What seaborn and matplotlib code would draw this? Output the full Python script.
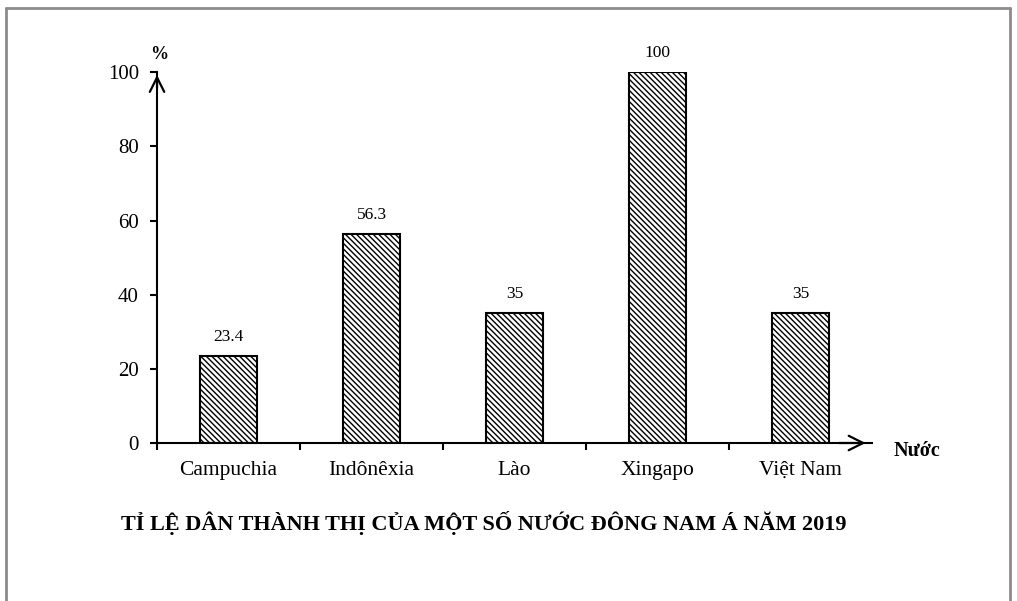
import numpy as np
import pandas as pd
import matplotlib
matplotlib.use('Agg')
import matplotlib.pyplot as plt
import seaborn as sns

# du lieu doc tu bieu do
countries = ['Campuchia', 'Indônêxia', 'Lào', 'Xingapo', 'Việt Nam']
urban_pct = [23.4, 56.3, 35, 100, 35]
value_labels = ['23.4', '56.3', '35', '100', '35']
y_ticks = [0, 20, 40, 60, 80, 100]

sns.set_theme(style='white')
plt.rcParams['font.family'] = ['Liberation Serif', 'DejaVu Serif']
plt.rcParams['hatch.linewidth'] = 1.0
plt.rcParams['text.color'] = 'black'
plt.rcParams['xtick.color'] = 'black'
plt.rcParams['ytick.color'] = 'black'

df = pd.DataFrame({'country': countries, 'pct': urban_pct})

fig = plt.figure(figsize=(10.17, 6.01), dpi=100)
ax = fig.add_axes([0.1544, 0.2629, 0.703, 0.617])

sns.barplot(data=df, x='country', y='pct', color='white', edgecolor='black',
            linewidth=1.5, width=0.4, hatch='\\\\\\\\\\\\', ax=ax)

ax.set_xlim(-0.5, 4.5)
ax.set_ylim(0, 100)
ax.set_yticks(y_ticks)
ax.set_yticklabels([str(v) for v in y_ticks], fontsize=15)
ax.set_xticks(np.arange(len(countries)))
ax.set_xticklabels(countries, fontsize=15.5)
# vach chia giua cac nuoc (bo vach cuoi vi co mui ten)
ax.set_xticks(np.arange(-0.5, 4.0, 1.0), minor=True)
ax.tick_params(axis='x', which='major', length=0, pad=13, bottom=True)
ax.tick_params(axis='x', which='minor', length=5, width=1.5, color='black',
               direction='out', bottom=True)
ax.tick_params(axis='y', which='major', length=5, width=1.5, color='black',
               direction='out', pad=8, left=True)
ax.set_xlabel('')
ax.set_ylabel('')

for s in ['top', 'right']:
    ax.spines[s].set_visible(False)
for s in ['bottom', 'left']:
    ax.spines[s].set_color('black')
    ax.spines[s].set_linewidth(1.5)

# mui ten truc
ax.annotate('', xy=(0.995, 0), xytext=(0.95, 0), xycoords='axes fraction',
            arrowprops=dict(arrowstyle='->', lw=1.6, color='black', mutation_scale=26))
ax.annotate('', xy=(0, 1.0), xytext=(0, 0.95), xycoords='axes fraction',
            arrowprops=dict(arrowstyle='->', lw=1.6, color='black', mutation_scale=26))

for i, v in enumerate(urban_pct):
    ax.annotate(value_labels[i], xy=(i, v), xytext=(0, 8), textcoords='offset points',
                ha='center', va='bottom', fontsize=12.5)

fig.text(0.1563, 0.895, '%', ha='center', va='bottom', fontsize=13, fontweight='bold')
fig.text(0.9017, 0.25, 'Nước', ha='center', va='center', fontsize=14.5, fontweight='bold')
fig.text(0.476, 0.13, 'TỈ LỆ DÂN THÀNH THỊ CỦA MỘT SỐ NƯỚC ĐÔNG NAM Á NĂM 2019',
         ha='center', va='center', fontsize=16, fontweight='bold')

# khung xam
for xs, ys in [([0.006, 0.006], [0.0, 0.986]), ([0.006, 0.993], [0.986, 0.986]),
               ([0.993, 0.993], [0.986, 0.0])]:
    fig.add_artist(plt.Line2D(xs, ys, color='#8c8c8c', lw=2, transform=fig.transFigure))

fig.savefig('out.png', dpi=100)
